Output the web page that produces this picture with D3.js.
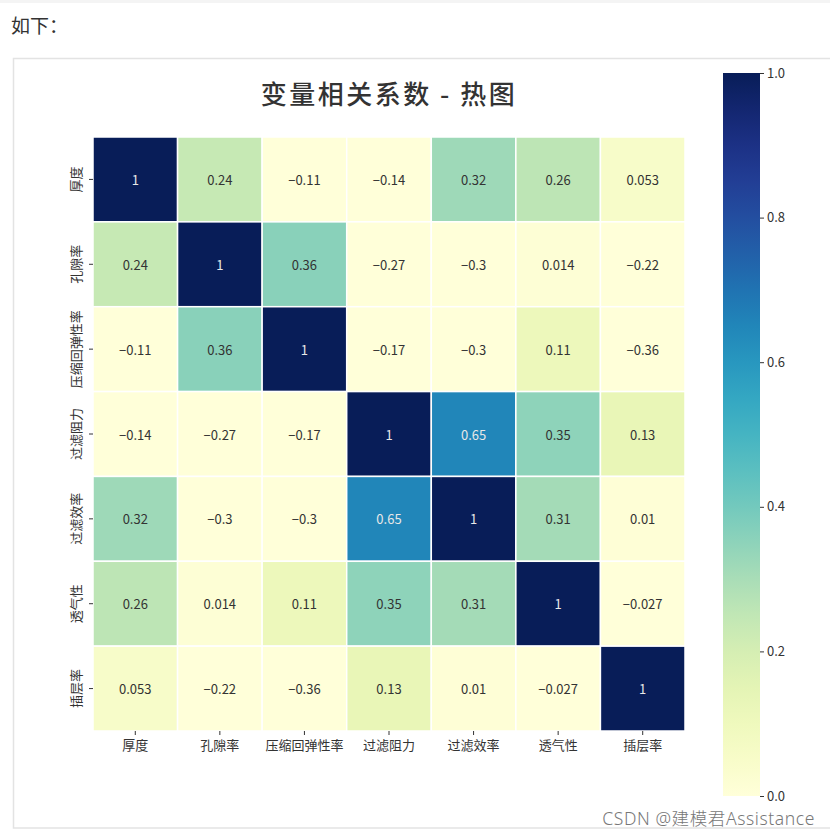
<!DOCTYPE html>
<html><head><meta charset="utf-8">
<script src="https://cdn.jsdelivr.net/npm/d3@7"></script>
<style>
html,body{margin:0;padding:0;background:#fff;}
svg{display:block;}
</style></head>
<body>
<svg id="c" width="830" height="832"></svg>
<script>
const labels = ["厚度","孔隙率","压缩回弹性率","过滤阻力","过滤效率","透气性","插层率"];
const r0 = [1, 0.24, -0.11, -0.14, 0.32, 0.26, 0.053];
const r1 = [0.24, 1, 0.36, -0.27, -0.3, 0.014, -0.22];
const r2 = [-0.11, 0.36, 1, -0.17, -0.3, 0.11, -0.36];
const r3 = [-0.14, -0.27, -0.17, 1, 0.65, 0.35, 0.13];
const r4 = [0.32, -0.3, -0.3, 0.65, 1, 0.31, 0.01];
const r5 = [0.26, 0.014, 0.11, 0.35, 0.31, 1, -0.027];
const r6 = [0.053, -0.22, -0.36, 0.13, 0.01, -0.027, 1];
const rows = [r0, r1, r2, r3, r4, r5, r6];
const cbTicks = [0.0, 0.2, 0.4, 0.6, 0.8, 1.0];
const titleText = "变量相关系数 - 热图";

const svg = d3.select("#c");
const font = "'Noto Sans CJK SC', 'DejaVu Sans', sans-serif";

// page elements
svg.append("rect").attr("x",0).attr("y",0).attr("width",830).attr("height",3).attr("fill","#f4f4f4");
svg.append("text").attr("x",11).attr("y",33).attr("font-family",font).attr("font-size",19)
  .attr("fill","#333").text("如下：");
svg.append("rect").attr("x",13.5).attr("y",58.5).attr("width",830).attr("height",769.5)
  .attr("fill","none").attr("stroke","#e3e3e3").attr("stroke-width",1.5);

const hmLeft = 93, hmTop = 137, hmW = 592, hmH = 594;
const x = d3.scaleBand().domain(labels).range([hmLeft, hmLeft+hmW]);
const y = d3.scaleBand().domain(labels).range([hmTop, hmTop+hmH]);
const color = v => d3.interpolateYlGnBu(Math.max(0, Math.min(1, v)));

const cells = [];
rows.forEach((row, i) => row.forEach((v, j) => cells.push({r: labels[i], c: labels[j], v})));

const fmt = v => {
  let s = d3.format(".2~g")(Math.abs(v));
  return (v < 0 ? "−" : "") + s;
};

const g = svg.append("g");
g.selectAll("rect.cell").data(cells).join("rect").attr("class","cell")
  .attr("x", d => x(d.c)).attr("y", d => y(d.r))
  .attr("width", x.bandwidth()).attr("height", y.bandwidth())
  .attr("fill", d => color(d.v)).attr("stroke","#fff").attr("stroke-width",1.5);

g.selectAll("text.ann").data(cells).join("text").attr("class","ann")
  .attr("x", d => x(d.c) + x.bandwidth()/2).attr("y", d => y(d.r) + y.bandwidth()/2)
  .attr("text-anchor","middle").attr("dominant-baseline","central")
  .attr("font-family", font).attr("font-size", 13)
  .attr("fill", d => d.v > 0.5 ? "#e8e8e8" : "#333")
  .text(d => fmt(d.v));

// x axis
const xa = svg.append("g").attr("transform", `translate(0,${hmTop+hmH})`)
  .call(d3.axisBottom(x).tickSize(4).tickPadding(6));
xa.select(".domain").remove();
xa.selectAll("line").attr("stroke","#333");
xa.selectAll("text").attr("font-family",font).attr("font-size",13).attr("fill","#333");

// y axis
const ya = svg.append("g").attr("transform", `translate(${hmLeft},0)`)
  .call(d3.axisLeft(y).tickSize(4).tickPadding(6));
ya.select(".domain").remove();
ya.selectAll("line").attr("stroke","#333");
ya.selectAll("text").attr("font-family",font).attr("font-size",13).attr("fill","#333")
  .attr("text-anchor","middle").attr("dy","0").attr("x",0)
  .attr("transform", "translate(-18,0) rotate(-90)")
  .attr("dominant-baseline","central");

// title
svg.append("text").attr("x", hmLeft + hmW/2).attr("y", 104).attr("text-anchor","middle")
  .attr("font-family",font).attr("font-size",26).attr("font-weight","500").attr("fill","#333")
  .attr("letter-spacing", 2.5)
  .text(titleText);

// colorbar
const cbX = 723, cbW = 37, cbTop = 73, cbBot = 796;
const cy = d3.scaleLinear().domain([0,1]).range([cbBot, cbTop]);
const defs = svg.append("defs");
const grad = defs.append("linearGradient").attr("id","cbg").attr("x1",0).attr("y1",1).attr("x2",0).attr("y2",0);
d3.range(0, 1.0001, 0.05).forEach(t => grad.append("stop").attr("offset", t).attr("stop-color", color(t)));
svg.append("rect").attr("x",cbX).attr("y",cbTop).attr("width",cbW).attr("height",cbBot-cbTop)
  .attr("fill","url(#cbg)");
const ca = svg.append("g").attr("transform",`translate(${cbX+cbW},0)`)
  .call(d3.axisRight(cy).tickValues(cbTicks).tickFormat(d3.format(".1f")).tickSize(4).tickPadding(3));
ca.select(".domain").remove();
ca.selectAll("line").attr("stroke","#333");
ca.selectAll("text").attr("font-family",font).attr("font-size",13).attr("fill","#333");

// watermark
svg.append("text").attr("x",815).attr("y",825).attr("text-anchor","end")
  .attr("font-family","'Noto Sans', 'Noto Sans CJK SC', sans-serif").attr("font-size",17.5)
  .attr("font-weight",300).attr("fill","#777").attr("letter-spacing",0.6)
  .text("CSDN @建模君Assistance");
</script>
</body></html>
